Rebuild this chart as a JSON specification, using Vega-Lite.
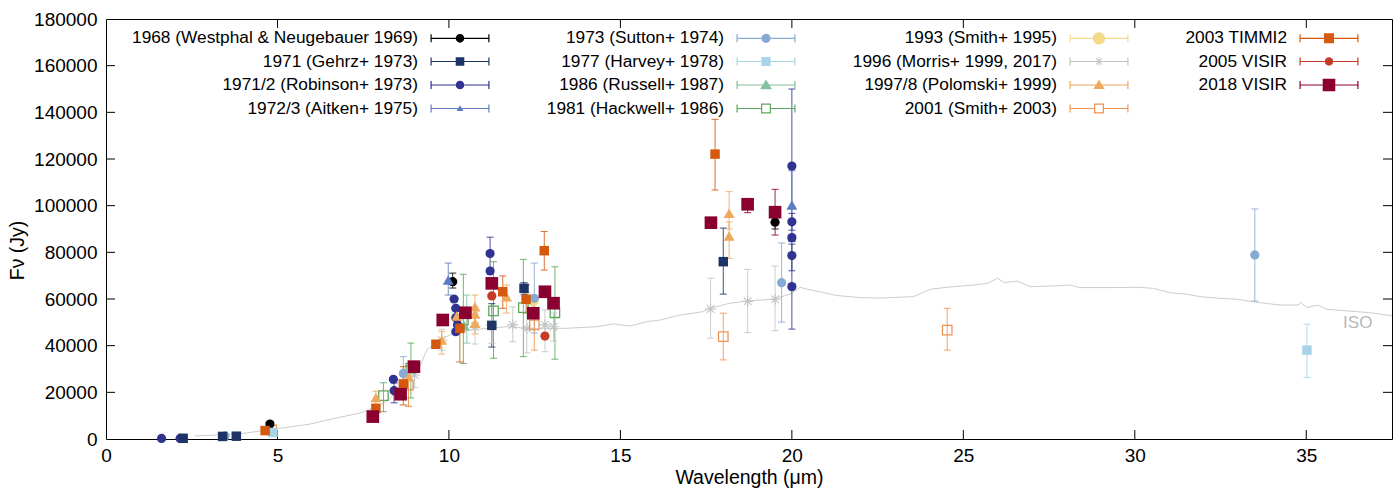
{
  "$schema": "https://vega.github.io/schema/vega-lite/v6.json",
  "width": 1286,
  "height": 420,
  "autosize": {"type": "none"},
  "padding": {"left": 106, "top": 19, "right": 8, "bottom": 49},
  "background": "white",
  "config": {"font": "Liberation Sans", "view": {"stroke": null}},
  "datasets": {
    "pts": [
      {"s": "1968 (Westphal & Neugebauer 1969)", "w": 4.78, "f": 6400, "lo": 5400, "hi": 7400},
      {"s": "1968 (Westphal & Neugebauer 1969)", "w": 10.11, "f": 67400, "lo": 64700, "hi": 71100},
      {"s": "1968 (Westphal & Neugebauer 1969)", "w": 19.51, "f": 92900, "lo": 90000, "hi": 95500},
      {"s": "1971 (Gehrz+ 1973)", "w": 2.25, "f": 300},
      {"s": "1971 (Gehrz+ 1973)", "w": 3.4, "f": 1100},
      {"s": "1971 (Gehrz+ 1973)", "w": 3.8, "f": 1200},
      {"s": "1971 (Gehrz+ 1973)", "w": 11.25, "f": 48700, "lo": 39400, "hi": 58000},
      {"s": "1971 (Gehrz+ 1973)", "w": 12.19, "f": 64600, "lo": 62000, "hi": 67000},
      {"s": "1971 (Gehrz+ 1973)", "w": 18.0, "f": 76000, "lo": 62100, "hi": 90400},
      {"s": "1971/2 (Robinson+ 1973)", "w": 1.62, "f": 250},
      {"s": "1971/2 (Robinson+ 1973)", "w": 2.16, "f": 250},
      {"s": "1971/2 (Robinson+ 1973)", "w": 8.38, "f": 25600},
      {"s": "1971/2 (Robinson+ 1973)", "w": 8.4, "f": 20700, "lo": 15500, "hi": 24000},
      {"s": "1971/2 (Robinson+ 1973)", "w": 10.15, "f": 60000},
      {"s": "1971/2 (Robinson+ 1973)", "w": 10.2, "f": 56000},
      {"s": "1971/2 (Robinson+ 1973)", "w": 10.2, "f": 52000},
      {"s": "1971/2 (Robinson+ 1973)", "w": 10.25, "f": 49000},
      {"s": "1971/2 (Robinson+ 1973)", "w": 10.2, "f": 46000},
      {"s": "1971/2 (Robinson+ 1973)", "w": 11.2, "f": 79500, "lo": 73000, "hi": 86500},
      {"s": "1971/2 (Robinson+ 1973)", "w": 11.2, "f": 72000},
      {"s": "1971/2 (Robinson+ 1973)", "w": 20.0, "f": 117000, "lo": 84600, "hi": 150000},
      {"s": "1971/2 (Robinson+ 1973)", "w": 20.0, "f": 93100, "lo": 89500, "hi": 96700},
      {"s": "1971/2 (Robinson+ 1973)", "w": 20.0, "f": 86300},
      {"s": "1971/2 (Robinson+ 1973)", "w": 20.0, "f": 78600, "lo": 72100, "hi": 85000},
      {"s": "1971/2 (Robinson+ 1973)", "w": 20.0, "f": 65300, "lo": 47100, "hi": 83500},
      {"s": "1972/3 (Aitken+ 1975)", "w": 9.98, "f": 68100, "lo": 61700, "hi": 75400},
      {"s": "1972/3 (Aitken+ 1975)", "w": 20.0, "f": 100300, "lo": 85000, "hi": 115000},
      {"s": "1973 (Sutton+ 1974)", "w": 3.47, "f": 1300},
      {"s": "1973 (Sutton+ 1974)", "w": 8.67, "f": 28100, "lo": 22400, "hi": 35300},
      {"s": "1973 (Sutton+ 1974)", "w": 12.49, "f": 60300, "lo": 45400, "hi": 75400},
      {"s": "1973 (Sutton+ 1974)", "w": 19.7, "f": 67000, "lo": 50100, "hi": 84000},
      {"s": "1973 (Sutton+ 1974)", "w": 33.5, "f": 78900, "lo": 59100, "hi": 98600},
      {"s": "1977 (Harvey+ 1978)", "w": 4.87, "f": 2800},
      {"s": "1977 (Harvey+ 1978)", "w": 35.02, "f": 38100, "lo": 26400, "hi": 49200},
      {"s": "1986 (Russell+ 1987)", "w": 10.52, "f": 54100, "lo": 41100, "hi": 61700},
      {"s": "1986 (Russell+ 1987)", "w": 10.45, "f": 48500},
      {"s": "1981 (Hackwell+ 1986)", "w": 8.09, "f": 18600, "lo": 11700, "hi": 24100},
      {"s": "1981 (Hackwell+ 1986)", "w": 8.89, "f": 30400, "lo": 17600, "hi": 41100},
      {"s": "1981 (Hackwell+ 1986)", "w": 10.42, "f": 51000, "lo": 32400, "hi": 70600},
      {"s": "1981 (Hackwell+ 1986)", "w": 11.3, "f": 54900, "lo": 34600, "hi": 76000},
      {"s": "1981 (Hackwell+ 1986)", "w": 12.17, "f": 56300, "lo": 35300, "hi": 77000},
      {"s": "1981 (Hackwell+ 1986)", "w": 13.09, "f": 54100, "lo": 34200, "hi": 73800},
      {"s": "1993 (Smith+ 1995)", "w": 12.45, "f": 59500},
      {"s": "1996 (Morris+ 1999, 2017)", "w": 9.0, "f": 27400, "lo": 22000, "hi": 33000},
      {"s": "1996 (Morris+ 1999, 2017)", "w": 9.79, "f": 42400, "lo": 38000, "hi": 47000},
      {"s": "1996 (Morris+ 1999, 2017)", "w": 10.76, "f": 48100, "lo": 40700, "hi": 55000},
      {"s": "1996 (Morris+ 1999, 2017)", "w": 11.25, "f": 49000, "lo": 41000, "hi": 57000},
      {"s": "1996 (Morris+ 1999, 2017)", "w": 11.86, "f": 48900, "lo": 41700, "hi": 56600},
      {"s": "1996 (Morris+ 1999, 2017)", "w": 12.27, "f": 47400, "lo": 36900, "hi": 62600},
      {"s": "1996 (Morris+ 1999, 2017)", "w": 12.8, "f": 48900, "lo": 37400, "hi": 55300},
      {"s": "1996 (Morris+ 1999, 2017)", "w": 13.05, "f": 48100, "lo": 42000, "hi": 54000},
      {"s": "1996 (Morris+ 1999, 2017)", "w": 17.63, "f": 55700, "lo": 43200, "hi": 68900},
      {"s": "1996 (Morris+ 1999, 2017)", "w": 18.71, "f": 59000, "lo": 45600, "hi": 72700},
      {"s": "1996 (Morris+ 1999, 2017)", "w": 19.51, "f": 59900, "lo": 46400, "hi": 74100},
      {"s": "1997/8 (Polomski+ 1999)", "w": 7.87, "f": 17800, "lo": 15000, "hi": 20500},
      {"s": "1997/8 (Polomski+ 1999)", "w": 8.82, "f": 26700, "lo": 13900, "hi": 31300},
      {"s": "1997/8 (Polomski+ 1999)", "w": 9.79, "f": 42400, "lo": 36400, "hi": 46000},
      {"s": "1997/8 (Polomski+ 1999)", "w": 10.23, "f": 52700},
      {"s": "1997/8 (Polomski+ 1999)", "w": 10.76, "f": 56700, "lo": 50000, "hi": 61700},
      {"s": "1997/8 (Polomski+ 1999)", "w": 10.76, "f": 53600},
      {"s": "1997/8 (Polomski+ 1999)", "w": 10.76, "f": 49600, "lo": 45000, "hi": 54000},
      {"s": "1997/8 (Polomski+ 1999)", "w": 11.68, "f": 61000, "lo": 54000, "hi": 66000},
      {"s": "1997/8 (Polomski+ 1999)", "w": 18.17, "f": 96700, "lo": 90000, "hi": 106000},
      {"s": "1997/8 (Polomski+ 1999)", "w": 18.17, "f": 87000, "lo": 77400, "hi": 93000},
      {"s": "2001 (Smith+ 2003)", "w": 4.83, "f": 3900},
      {"s": "2001 (Smith+ 2003)", "w": 8.82, "f": 23100, "lo": 14100, "hi": 31300},
      {"s": "2001 (Smith+ 2003)", "w": 12.49, "f": 48900, "lo": 38100, "hi": 61000},
      {"s": "2001 (Smith+ 2003)", "w": 18.0, "f": 43900, "lo": 33900, "hi": 53900},
      {"s": "2001 (Smith+ 2003)", "w": 24.53, "f": 46700, "lo": 38100, "hi": 56000},
      {"s": "2003 TIMMI2", "w": 4.64, "f": 3600},
      {"s": "2003 TIMMI2", "w": 7.87, "f": 13100, "lo": 11500, "hi": 14700},
      {"s": "2003 TIMMI2", "w": 8.67, "f": 23600, "lo": 14600, "hi": 31000},
      {"s": "2003 TIMMI2", "w": 9.62, "f": 40600, "lo": 39000, "hi": 42200},
      {"s": "2003 TIMMI2", "w": 10.32, "f": 47400, "lo": 33000, "hi": 56100},
      {"s": "2003 TIMMI2", "w": 11.57, "f": 63100, "lo": 56000, "hi": 69900},
      {"s": "2003 TIMMI2", "w": 12.25, "f": 59900, "lo": 54000, "hi": 66000},
      {"s": "2003 TIMMI2", "w": 12.78, "f": 80700, "lo": 72400, "hi": 88900},
      {"s": "2003 TIMMI2", "w": 17.76, "f": 122100, "lo": 106700, "hi": 137000},
      {"s": "2005 VISIR", "w": 11.25, "f": 61300},
      {"s": "2005 VISIR", "w": 12.8, "f": 44100},
      {"s": "2018 VISIR", "w": 7.78, "f": 9600},
      {"s": "2018 VISIR", "w": 8.59, "f": 19200, "lo": 17500, "hi": 21000},
      {"s": "2018 VISIR", "w": 8.98, "f": 31000},
      {"s": "2018 VISIR", "w": 9.82, "f": 51000},
      {"s": "2018 VISIR", "w": 10.48, "f": 54100},
      {"s": "2018 VISIR", "w": 11.25, "f": 66700},
      {"s": "2018 VISIR", "w": 12.46, "f": 53900},
      {"s": "2018 VISIR", "w": 12.8, "f": 63100},
      {"s": "2018 VISIR", "w": 13.05, "f": 58200},
      {"s": "2018 VISIR", "w": 17.64, "f": 92700},
      {"s": "2018 VISIR", "w": 18.71, "f": 100600, "lo": 97000, "hi": 103000},
      {"s": "2018 VISIR", "w": 19.51, "f": 97200, "lo": 87400, "hi": 107000}
    ],
    "iso": [
      {"w": 2.6, "f": 1300}, {"w": 3.2, "f": 1700}, {"w": 4.0, "f": 2400}, {"w": 5.95, "f": 6400},
      {"w": 6.53, "f": 8400}, {"w": 7.46, "f": 11300}, {"w": 8.18, "f": 16000}, {"w": 8.72, "f": 23100},
      {"w": 9.11, "f": 29600}, {"w": 9.35, "f": 38100}, {"w": 9.64, "f": 41700}, {"w": 10.03, "f": 44600},
      {"w": 10.62, "f": 46700}, {"w": 11.1, "f": 47400}, {"w": 11.68, "f": 48100}, {"w": 12.36, "f": 47400},
      {"w": 13.34, "f": 47400}, {"w": 14.31, "f": 48100}, {"w": 14.8, "f": 49300}, {"w": 15.28, "f": 48400},
      {"w": 15.77, "f": 50300}, {"w": 16.16, "f": 51000}, {"w": 16.74, "f": 53100}, {"w": 17.42, "f": 54600},
      {"w": 17.6, "f": 56000}, {"w": 18.2, "f": 58200}, {"w": 18.68, "f": 59100}, {"w": 19.5, "f": 60000},
      {"w": 20.0, "f": 62400}, {"w": 20.24, "f": 65000}, {"w": 20.53, "f": 63900}, {"w": 20.82, "f": 63100},
      {"w": 21.3, "f": 61500}, {"w": 22.0, "f": 60600}, {"w": 22.57, "f": 60400}, {"w": 23.55, "f": 61000},
      {"w": 24.04, "f": 64200}, {"w": 24.52, "f": 65000}, {"w": 25.3, "f": 66000}, {"w": 25.7, "f": 66700},
      {"w": 26.0, "f": 68900}, {"w": 26.2, "f": 67000}, {"w": 26.56, "f": 67700}, {"w": 26.95, "f": 65300},
      {"w": 27.63, "f": 65600}, {"w": 28.1, "f": 66000}, {"w": 28.4, "f": 64900}, {"w": 29.38, "f": 64900},
      {"w": 30.06, "f": 65000}, {"w": 30.54, "f": 64600}, {"w": 31.03, "f": 62700}, {"w": 31.52, "f": 62100},
      {"w": 31.9, "f": 61000}, {"w": 32.49, "f": 60300}, {"w": 32.97, "f": 59900}, {"w": 33.56, "f": 58600},
      {"w": 34.24, "f": 57400}, {"w": 34.77, "f": 57400}, {"w": 34.84, "f": 58500}, {"w": 35.02, "f": 56400},
      {"w": 35.35, "f": 57400}, {"w": 35.6, "f": 55600}, {"w": 36.19, "f": 54900}, {"w": 36.88, "f": 54100},
      {"w": 37.5, "f": 52800}
    ],
    "isolab": [{"label": "ISO", "w": 36.5, "f": 49700}],
    "xt": [{"t": 5}, {"t": 10}, {"t": 15}, {"t": 20}, {"t": 25}, {"t": 30}, {"t": 35}],
    "yt": [{"v": 20000}, {"v": 40000}, {"v": 60000}, {"v": 80000}, {"v": 100000}, {"v": 120000}, {"v": 140000}, {"v": 160000}]
  },
  "resolve": {"axis": {"x": "independent", "y": "independent"}},
  "layer": [
    {
      "data": {"name": "iso"},
      "mark": {"type": "line", "color": "#c6c6c6", "strokeWidth": 0.9},
      "encoding": {
        "x": {"field": "w", "type": "quantitative", "scale": {"domain": [0, 37.5], "nice": false, "zero": false},
          "axis": {"orient": "bottom", "values": [0, 5, 10, 15, 20, 25, 30, 35], "ticks": false, "labelPadding": 7, "labelFontSize": 19, "labelColor": "black", "labelFlush": false, "domainColor": "black", "grid": false, "title": "Wavelength (μm)", "titleFontSize": 19.5, "titleFontWeight": "normal", "titleColor": "black", "titlePadding": 3}},
        "y": {"field": "f", "type": "quantitative", "scale": {"domain": [0, 180000], "nice": false},
          "axis": {"orient": "left", "values": [0, 20000, 40000, 60000, 80000, 100000, 120000, 140000, 160000, 180000], "format": "d", "ticks": false, "labelPadding": 9, "labelFontSize": 19, "labelColor": "black", "labelFlush": false, "domainColor": "black", "grid": false, "title": "Fν (Jy)", "titleFontSize": 19.5, "titleFontWeight": "normal", "titleColor": "black", "titlePadding": 6, "titleY": 231}}
      }
    },
    {
      "data": {"name": "isolab"},
      "mark": {"type": "text", "color": "#b8b8b8", "fontSize": 17, "align": "center", "baseline": "middle"},
      "encoding": {
        "x": {"field": "w", "type": "quantitative", "scale": {"domain": [0, 37.5], "nice": false, "zero": false},
          "axis": {"orient": "top", "labels": false, "ticks": false, "domainColor": "black", "grid": false, "title": null}},
        "y": {"field": "f", "type": "quantitative", "scale": {"domain": [0, 180000], "nice": false},
          "axis": {"orient": "right", "labels": false, "ticks": false, "domainColor": "black", "grid": false, "title": null}},
        "text": {"field": "label"}
      }
    },
    {
      "data": {"name": "xt"},
      "mark": {"type": "point", "shape": "M0,0L0,-2", "filled": false, "size": 81, "stroke": "black", "strokeWidth": 1, "opacity": 1},
      "encoding": {
        "x": {"field": "t", "type": "quantitative", "scale": {"domain": [0, 37.5], "nice": false, "zero": false}, "axis": null},
        "y": {"datum": 0, "type": "quantitative", "scale": {"domain": [0, 180000], "nice": false}, "axis": null}
      }
    },
    {
      "data": {"name": "xt"},
      "mark": {"type": "point", "shape": "M0,0L0,2", "filled": false, "size": 81, "stroke": "black", "strokeWidth": 1, "opacity": 1},
      "encoding": {
        "x": {"field": "t", "type": "quantitative", "scale": {"domain": [0, 37.5], "nice": false, "zero": false}, "axis": null},
        "y": {"datum": 180000, "type": "quantitative", "scale": {"domain": [0, 180000], "nice": false}, "axis": null}
      }
    },
    {
      "data": {"name": "yt"},
      "mark": {"type": "point", "shape": "M0,0L2,0", "filled": false, "size": 81, "stroke": "black", "strokeWidth": 1, "opacity": 1},
      "encoding": {
        "x": {"datum": 0, "type": "quantitative", "scale": {"domain": [0, 37.5], "nice": false, "zero": false}, "axis": null},
        "y": {"field": "v", "type": "quantitative", "scale": {"domain": [0, 180000], "nice": false}, "axis": null}
      }
    },
    {
      "data": {"name": "yt"},
      "mark": {"type": "point", "shape": "M0,0L-2,0", "filled": false, "size": 81, "stroke": "black", "strokeWidth": 1, "opacity": 1},
      "encoding": {
        "x": {"datum": 37.5, "type": "quantitative", "scale": {"domain": [0, 37.5], "nice": false, "zero": false}, "axis": null},
        "y": {"field": "v", "type": "quantitative", "scale": {"domain": [0, 180000], "nice": false}, "axis": null}
      }
    },
    {
      "data": {"name": "pts"},
      "transform": [{"filter": "isValid(datum.lo)"}],
      "mark": {"type": "rule", "strokeWidth": 1, "opacity": 0.85},
      "encoding": {
        "x": {"field": "w", "type": "quantitative", "scale": {"domain": [0, 37.5], "nice": false, "zero": false}, "axis": null},
        "y": {"field": "lo", "type": "quantitative", "scale": {"domain": [0, 180000], "nice": false}, "axis": null},
        "y2": {"field": "hi"},
        "stroke": {"field": "s", "type": "nominal", "scale": {"domain": ["1968 (Westphal & Neugebauer 1969)","1973 (Sutton+ 1974)","1993 (Smith+ 1995)","2003 TIMMI2","1971 (Gehrz+ 1973)","1977 (Harvey+ 1978)","1996 (Morris+ 1999, 2017)","2005 VISIR","1971/2 (Robinson+ 1973)","1986 (Russell+ 1987)","1997/8 (Polomski+ 1999)","2018 VISIR","1972/3 (Aitken+ 1975)","1981 (Hackwell+ 1986)","2001 (Smith+ 2003)"], "range": ["#000000","#86aad3","#f5d98a","#d4590f","#1d3566","#a8d4e8","#c4c4c4","#c53b2a","#30338f","#82c29c","#efa95c","#8a0030","#5b7cc0","#5ea65c","#f19254"]}, "legend": null}
      }
    },
    {
      "data": {"name": "pts"},
      "transform": [{"filter": "isValid(datum.lo)"}],
      "mark": {"type": "point", "shape": "M-1,0L1,0", "filled": false, "strokeWidth": 1, "size": 49, "opacity": 0.85},
      "encoding": {
        "x": {"field": "w", "type": "quantitative", "scale": {"domain": [0, 37.5], "nice": false, "zero": false}, "axis": null},
        "y": {"field": "lo", "type": "quantitative", "scale": {"domain": [0, 180000], "nice": false}, "axis": null},
        "stroke": {"field": "s", "type": "nominal", "scale": {"domain": ["1968 (Westphal & Neugebauer 1969)","1973 (Sutton+ 1974)","1993 (Smith+ 1995)","2003 TIMMI2","1971 (Gehrz+ 1973)","1977 (Harvey+ 1978)","1996 (Morris+ 1999, 2017)","2005 VISIR","1971/2 (Robinson+ 1973)","1986 (Russell+ 1987)","1997/8 (Polomski+ 1999)","2018 VISIR","1972/3 (Aitken+ 1975)","1981 (Hackwell+ 1986)","2001 (Smith+ 2003)"], "range": ["#000000","#86aad3","#f5d98a","#d4590f","#1d3566","#a8d4e8","#c4c4c4","#c53b2a","#30338f","#82c29c","#efa95c","#8a0030","#5b7cc0","#5ea65c","#f19254"]}, "legend": null}
      }
    },
    {
      "data": {"name": "pts"},
      "transform": [{"filter": "isValid(datum.lo)"}],
      "mark": {"type": "point", "shape": "M-1,0L1,0", "filled": false, "strokeWidth": 1, "size": 49, "opacity": 0.85},
      "encoding": {
        "x": {"field": "w", "type": "quantitative", "scale": {"domain": [0, 37.5], "nice": false, "zero": false}, "axis": null},
        "y": {"field": "hi", "type": "quantitative", "scale": {"domain": [0, 180000], "nice": false}, "axis": null},
        "stroke": {"field": "s", "type": "nominal", "scale": {"domain": ["1968 (Westphal & Neugebauer 1969)","1973 (Sutton+ 1974)","1993 (Smith+ 1995)","2003 TIMMI2","1971 (Gehrz+ 1973)","1977 (Harvey+ 1978)","1996 (Morris+ 1999, 2017)","2005 VISIR","1971/2 (Robinson+ 1973)","1986 (Russell+ 1987)","1997/8 (Polomski+ 1999)","2018 VISIR","1972/3 (Aitken+ 1975)","1981 (Hackwell+ 1986)","2001 (Smith+ 2003)"], "range": ["#000000","#86aad3","#f5d98a","#d4590f","#1d3566","#a8d4e8","#c4c4c4","#c53b2a","#30338f","#82c29c","#efa95c","#8a0030","#5b7cc0","#5ea65c","#f19254"]}, "legend": null}
      }
    },
    {
      "data": {"name": "pts"},
      "transform": [{"filter": {"field": "s", "oneOf": ["1993 (Smith+ 1995)"]}}],
      "mark": {"type": "point", "shape": "circle", "filled": true, "size": 150, "opacity": 1, "strokeWidth": 0},
      "encoding": {
        "x": {"field": "w", "type": "quantitative", "scale": {"domain": [0, 37.5], "nice": false, "zero": false}, "axis": null},
        "y": {"field": "f", "type": "quantitative", "scale": {"domain": [0, 180000], "nice": false}, "axis": null},
        "fill": {"field": "s", "type": "nominal", "scale": {"domain": ["1968 (Westphal & Neugebauer 1969)","1973 (Sutton+ 1974)","1993 (Smith+ 1995)","2003 TIMMI2","1971 (Gehrz+ 1973)","1977 (Harvey+ 1978)","1996 (Morris+ 1999, 2017)","2005 VISIR","1971/2 (Robinson+ 1973)","1986 (Russell+ 1987)","1997/8 (Polomski+ 1999)","2018 VISIR","1972/3 (Aitken+ 1975)","1981 (Hackwell+ 1986)","2001 (Smith+ 2003)"], "range": ["#000000","#86aad3","#f5d98a","#d4590f","#1d3566","#a8d4e8","#c4c4c4","#c53b2a","#30338f","#82c29c","#efa95c","#8a0030","#5b7cc0","#5ea65c","#f19254"]}, "legend": null}
      }
    },
    {
      "data": {"name": "pts"},
      "transform": [{"filter": {"field": "s", "oneOf": ["1996 (Morris+ 1999, 2017)"]}}],
      "mark": {"type": "point", "shape": "M-1,0L1,0M0,-1L0,1M-0.7,-0.7L0.7,0.7M-0.7,0.7L0.7,-0.7", "filled": false, "size": 121, "opacity": 1, "strokeWidth": 1.1},
      "encoding": {
        "x": {"field": "w", "type": "quantitative", "scale": {"domain": [0, 37.5], "nice": false, "zero": false}, "axis": null},
        "y": {"field": "f", "type": "quantitative", "scale": {"domain": [0, 180000], "nice": false}, "axis": null},
        "stroke": {"field": "s", "type": "nominal", "scale": {"domain": ["1968 (Westphal & Neugebauer 1969)","1973 (Sutton+ 1974)","1993 (Smith+ 1995)","2003 TIMMI2","1971 (Gehrz+ 1973)","1977 (Harvey+ 1978)","1996 (Morris+ 1999, 2017)","2005 VISIR","1971/2 (Robinson+ 1973)","1986 (Russell+ 1987)","1997/8 (Polomski+ 1999)","2018 VISIR","1972/3 (Aitken+ 1975)","1981 (Hackwell+ 1986)","2001 (Smith+ 2003)"], "range": ["#000000","#86aad3","#f5d98a","#d4590f","#1d3566","#a8d4e8","#c4c4c4","#c53b2a","#30338f","#82c29c","#efa95c","#8a0030","#5b7cc0","#5ea65c","#f19254"]}, "legend": null}
      }
    },
    {
      "data": {"name": "pts"},
      "transform": [{"filter": {"field": "s", "oneOf": ["1981 (Hackwell+ 1986)", "2001 (Smith+ 2003)"]}}],
      "mark": {"type": "point", "shape": "square", "filled": false, "size": 90, "opacity": 1, "strokeWidth": 1.3},
      "encoding": {
        "x": {"field": "w", "type": "quantitative", "scale": {"domain": [0, 37.5], "nice": false, "zero": false}, "axis": null},
        "y": {"field": "f", "type": "quantitative", "scale": {"domain": [0, 180000], "nice": false}, "axis": null},
        "stroke": {"field": "s", "type": "nominal", "scale": {"domain": ["1968 (Westphal & Neugebauer 1969)","1973 (Sutton+ 1974)","1993 (Smith+ 1995)","2003 TIMMI2","1971 (Gehrz+ 1973)","1977 (Harvey+ 1978)","1996 (Morris+ 1999, 2017)","2005 VISIR","1971/2 (Robinson+ 1973)","1986 (Russell+ 1987)","1997/8 (Polomski+ 1999)","2018 VISIR","1972/3 (Aitken+ 1975)","1981 (Hackwell+ 1986)","2001 (Smith+ 2003)"], "range": ["#000000","#86aad3","#f5d98a","#d4590f","#1d3566","#a8d4e8","#c4c4c4","#c53b2a","#30338f","#82c29c","#efa95c","#8a0030","#5b7cc0","#5ea65c","#f19254"]}, "legend": null}
      }
    },
    {
      "data": {"name": "pts"},
      "transform": [{"filter": {"field": "s", "oneOf": ["1968 (Westphal & Neugebauer 1969)", "1971/2 (Robinson+ 1973)", "1973 (Sutton+ 1974)", "2005 VISIR"]}}],
      "mark": {"type": "point", "shape": "circle", "filled": true, "size": 85, "opacity": 1, "strokeWidth": 0},
      "encoding": {
        "x": {"field": "w", "type": "quantitative", "scale": {"domain": [0, 37.5], "nice": false, "zero": false}, "axis": null},
        "y": {"field": "f", "type": "quantitative", "scale": {"domain": [0, 180000], "nice": false}, "axis": null},
        "fill": {"field": "s", "type": "nominal", "scale": {"domain": ["1968 (Westphal & Neugebauer 1969)","1973 (Sutton+ 1974)","1993 (Smith+ 1995)","2003 TIMMI2","1971 (Gehrz+ 1973)","1977 (Harvey+ 1978)","1996 (Morris+ 1999, 2017)","2005 VISIR","1971/2 (Robinson+ 1973)","1986 (Russell+ 1987)","1997/8 (Polomski+ 1999)","2018 VISIR","1972/3 (Aitken+ 1975)","1981 (Hackwell+ 1986)","2001 (Smith+ 2003)"], "range": ["#000000","#86aad3","#f5d98a","#d4590f","#1d3566","#a8d4e8","#c4c4c4","#c53b2a","#30338f","#82c29c","#efa95c","#8a0030","#5b7cc0","#5ea65c","#f19254"]}, "legend": null}
      }
    },
    {
      "data": {"name": "pts"},
      "transform": [{"filter": {"field": "s", "oneOf": ["1972/3 (Aitken+ 1975)", "1986 (Russell+ 1987)", "1997/8 (Polomski+ 1999)"]}}],
      "mark": {"type": "point", "shape": "triangle-up", "filled": true, "size": 120, "opacity": 1, "strokeWidth": 0},
      "encoding": {
        "x": {"field": "w", "type": "quantitative", "scale": {"domain": [0, 37.5], "nice": false, "zero": false}, "axis": null},
        "y": {"field": "f", "type": "quantitative", "scale": {"domain": [0, 180000], "nice": false}, "axis": null},
        "fill": {"field": "s", "type": "nominal", "scale": {"domain": ["1968 (Westphal & Neugebauer 1969)","1973 (Sutton+ 1974)","1993 (Smith+ 1995)","2003 TIMMI2","1971 (Gehrz+ 1973)","1977 (Harvey+ 1978)","1996 (Morris+ 1999, 2017)","2005 VISIR","1971/2 (Robinson+ 1973)","1986 (Russell+ 1987)","1997/8 (Polomski+ 1999)","2018 VISIR","1972/3 (Aitken+ 1975)","1981 (Hackwell+ 1986)","2001 (Smith+ 2003)"], "range": ["#000000","#86aad3","#f5d98a","#d4590f","#1d3566","#a8d4e8","#c4c4c4","#c53b2a","#30338f","#82c29c","#efa95c","#8a0030","#5b7cc0","#5ea65c","#f19254"]}, "legend": null}
      }
    },
    {
      "data": {"name": "pts"},
      "transform": [{"filter": {"field": "s", "oneOf": ["1971 (Gehrz+ 1973)", "1977 (Harvey+ 1978)", "2003 TIMMI2"]}}],
      "mark": {"type": "point", "shape": "square", "filled": true, "size": 90, "opacity": 1, "strokeWidth": 0},
      "encoding": {
        "x": {"field": "w", "type": "quantitative", "scale": {"domain": [0, 37.5], "nice": false, "zero": false}, "axis": null},
        "y": {"field": "f", "type": "quantitative", "scale": {"domain": [0, 180000], "nice": false}, "axis": null},
        "fill": {"field": "s", "type": "nominal", "scale": {"domain": ["1968 (Westphal & Neugebauer 1969)","1973 (Sutton+ 1974)","1993 (Smith+ 1995)","2003 TIMMI2","1971 (Gehrz+ 1973)","1977 (Harvey+ 1978)","1996 (Morris+ 1999, 2017)","2005 VISIR","1971/2 (Robinson+ 1973)","1986 (Russell+ 1987)","1997/8 (Polomski+ 1999)","2018 VISIR","1972/3 (Aitken+ 1975)","1981 (Hackwell+ 1986)","2001 (Smith+ 2003)"], "range": ["#000000","#86aad3","#f5d98a","#d4590f","#1d3566","#a8d4e8","#c4c4c4","#c53b2a","#30338f","#82c29c","#efa95c","#8a0030","#5b7cc0","#5ea65c","#f19254"]}, "legend": null}
      }
    },
    {
      "data": {"name": "pts"},
      "transform": [{"filter": {"field": "s", "oneOf": ["2018 VISIR"]}}],
      "mark": {"type": "point", "shape": "square", "filled": true, "size": 160, "opacity": 1, "strokeWidth": 0},
      "encoding": {
        "x": {"field": "w", "type": "quantitative", "scale": {"domain": [0, 37.5], "nice": false, "zero": false}, "axis": null},
        "y": {"field": "f", "type": "quantitative", "scale": {"domain": [0, 180000], "nice": false}, "axis": null},
        "fill": {"field": "s", "type": "nominal", "scale": {"domain": ["1968 (Westphal & Neugebauer 1969)","1973 (Sutton+ 1974)","1993 (Smith+ 1995)","2003 TIMMI2","1971 (Gehrz+ 1973)","1977 (Harvey+ 1978)","1996 (Morris+ 1999, 2017)","2005 VISIR","1971/2 (Robinson+ 1973)","1986 (Russell+ 1987)","1997/8 (Polomski+ 1999)","2018 VISIR","1972/3 (Aitken+ 1975)","1981 (Hackwell+ 1986)","2001 (Smith+ 2003)"], "range": ["#000000","#86aad3","#f5d98a","#d4590f","#1d3566","#a8d4e8","#c4c4c4","#c53b2a","#30338f","#82c29c","#efa95c","#8a0030","#5b7cc0","#5ea65c","#f19254"]}, "legend": null}
      }
    },
    {
      "data": {"name": "pts"},
      "transform": [{"filter": "false"}],
      "mark": {"type": "point", "filled": true, "opacity": 1, "strokeWidth": 0},
      "encoding": {
        "x": {"field": "w", "type": "quantitative", "scale": {"domain": [0, 37.5], "nice": false, "zero": false}, "axis": null},
        "y": {"field": "f", "type": "quantitative", "scale": {"domain": [0, 180000], "nice": false}, "axis": null},
        "color": {"field": "s", "type": "nominal", "scale": {"domain": ["1968 (Westphal & Neugebauer 1969)","1971 (Gehrz+ 1973)","1971/2 (Robinson+ 1973)","1972/3 (Aitken+ 1975)","1973 (Sutton+ 1974)","1977 (Harvey+ 1978)","1986 (Russell+ 1987)","1981 (Hackwell+ 1986)","1993 (Smith+ 1995)","1996 (Morris+ 1999, 2017)","1997/8 (Polomski+ 1999)","2001 (Smith+ 2003)","2003 TIMMI2","2005 VISIR","2018 VISIR"], "range": ["#000000","#1d3566","#30338f","#5b7cc0","#86aad3","#a8d4e8","#82c29c","#5ea65c","#f5d98a","#c4c4c4","#efa95c","#f19254","#d4590f","#c53b2a","#8a0030"]},
          "legend": {"title": null, "orient": "none", "legendX": 344, "legendY": 9, "columns": 4, "symbolSize": 400, "symbolStrokeWidth": 0, "symbolOpacity": 1, "labelAlign": "right", "labelOffset": -52, "labelFontSize": 17.3, "labelFont": "Liberation Sans", "labelColor": "black", "labelLimit": 400, "rowPadding": 4.5, "columnPadding": 56, "padding": 0, "gridAlign": "each"}},
        "shape": {"field": "s", "type": "nominal", "scale": {"domain": ["1968 (Westphal & Neugebauer 1969)","1971 (Gehrz+ 1973)","1971/2 (Robinson+ 1973)","1972/3 (Aitken+ 1975)","1973 (Sutton+ 1974)","1977 (Harvey+ 1978)","1986 (Russell+ 1987)","1981 (Hackwell+ 1986)","1993 (Smith+ 1995)","1996 (Morris+ 1999, 2017)","1997/8 (Polomski+ 1999)","2001 (Smith+ 2003)","2003 TIMMI2","2005 VISIR","2018 VISIR"],
          "range": [
            "M-2.95,-0.06H2.95V0.06H-2.95Z M-2.95,-0.4H-2.83V0.4H-2.95Z M2.83,-0.4H2.95V0.4H2.83Z M-0.43,0A0.43,0.43 0 1,1 0.43,0A0.43,0.43 0 1,1 -0.43,0Z",
            "M-2.95,-0.06H2.95V0.06H-2.95Z M-2.95,-0.4H-2.83V0.4H-2.95Z M2.83,-0.4H2.95V0.4H2.83Z M-0.43,-0.43H0.43V0.43H-0.43Z",
            "M-2.95,-0.06H2.95V0.06H-2.95Z M-2.95,-0.4H-2.83V0.4H-2.95Z M2.83,-0.4H2.95V0.4H2.83Z M-0.43,0A0.43,0.43 0 1,1 0.43,0A0.43,0.43 0 1,1 -0.43,0Z",
            "M-2.95,-0.06H2.95V0.06H-2.95Z M-2.95,-0.4H-2.83V0.4H-2.95Z M2.83,-0.4H2.95V0.4H2.83Z M0,-0.32L0.34,0.25L-0.34,0.25Z",
            "M-2.95,-0.06H2.95V0.06H-2.95Z M-2.95,-0.4H-2.83V0.4H-2.95Z M2.83,-0.4H2.95V0.4H2.83Z M-0.46,0A0.46,0.46 0 1,1 0.46,0A0.46,0.46 0 1,1 -0.46,0Z",
            "M-2.95,-0.06H2.95V0.06H-2.95Z M-2.95,-0.4H-2.83V0.4H-2.95Z M2.83,-0.4H2.95V0.4H2.83Z M-0.46,-0.46H0.46V0.46H-0.46Z",
            "M-2.95,-0.06H2.95V0.06H-2.95Z M-2.95,-0.4H-2.83V0.4H-2.95Z M2.83,-0.4H2.95V0.4H2.83Z M0,-0.55L0.59,0.42L-0.59,0.42Z",
            "M-2.95,-0.06H-0.5V0.06H-2.95Z M0.5,-0.06H2.95V0.06H0.5Z M-2.95,-0.4H-2.83V0.4H-2.95Z M2.83,-0.4H2.95V0.4H2.83Z M-0.5,-0.5H0.5V0.5H-0.5Z M-0.38,-0.38V0.38H0.38V-0.38Z",
            "M-2.95,-0.06H2.95V0.06H-2.95Z M-2.95,-0.4H-2.83V0.4H-2.95Z M2.83,-0.4H2.95V0.4H2.83Z M-0.62,0A0.62,0.62 0 1,1 0.62,0A0.62,0.62 0 1,1 -0.62,0Z",
            "M-2.95,-0.06H2.95V0.06H-2.95Z M-2.95,-0.4H-2.83V0.4H-2.95Z M2.83,-0.4H2.95V0.4H2.83Z M-0.45,-0.05H0.45V0.05H-0.45Z M-0.05,-0.45H0.05V0.45H-0.05Z M0.354,0.283L0.283,0.354L-0.354,-0.283L-0.283,-0.354Z M-0.283,0.354L-0.354,0.283L0.283,-0.354L0.354,-0.283Z",
            "M-2.95,-0.06H2.95V0.06H-2.95Z M-2.95,-0.4H-2.83V0.4H-2.95Z M2.83,-0.4H2.95V0.4H2.83Z M0,-0.53L0.57,0.4L-0.57,0.4Z",
            "M-2.95,-0.06H-0.5V0.06H-2.95Z M0.5,-0.06H2.95V0.06H0.5Z M-2.95,-0.4H-2.83V0.4H-2.95Z M2.83,-0.4H2.95V0.4H2.83Z M-0.5,-0.5H0.5V0.5H-0.5Z M-0.38,-0.38V0.38H0.38V-0.38Z",
            "M-2.95,-0.06H2.95V0.06H-2.95Z M-2.95,-0.4H-2.83V0.4H-2.95Z M2.83,-0.4H2.95V0.4H2.83Z M-0.5,-0.5H0.5V0.5H-0.5Z",
            "M-2.95,-0.06H2.95V0.06H-2.95Z M-2.95,-0.4H-2.83V0.4H-2.95Z M2.83,-0.4H2.95V0.4H2.83Z M-0.42,0A0.42,0.42 0 1,1 0.42,0A0.42,0.42 0 1,1 -0.42,0Z",
            "M-2.95,-0.06H2.95V0.06H-2.95Z M-2.95,-0.4H-2.83V0.4H-2.95Z M2.83,-0.4H2.95V0.4H2.83Z M-0.63,-0.63H0.63V0.63H-0.63Z"
          ]},
          "legend": {"title": null, "orient": "none", "legendX": 344, "legendY": 9, "columns": 4, "symbolSize": 400, "symbolStrokeWidth": 0, "symbolOpacity": 1, "labelAlign": "right", "labelOffset": -52, "labelFontSize": 17.3, "labelFont": "Liberation Sans", "labelColor": "black", "labelLimit": 400, "rowPadding": 4.5, "columnPadding": 56, "padding": 0, "gridAlign": "each"}}
      }
    }
  ]
}
